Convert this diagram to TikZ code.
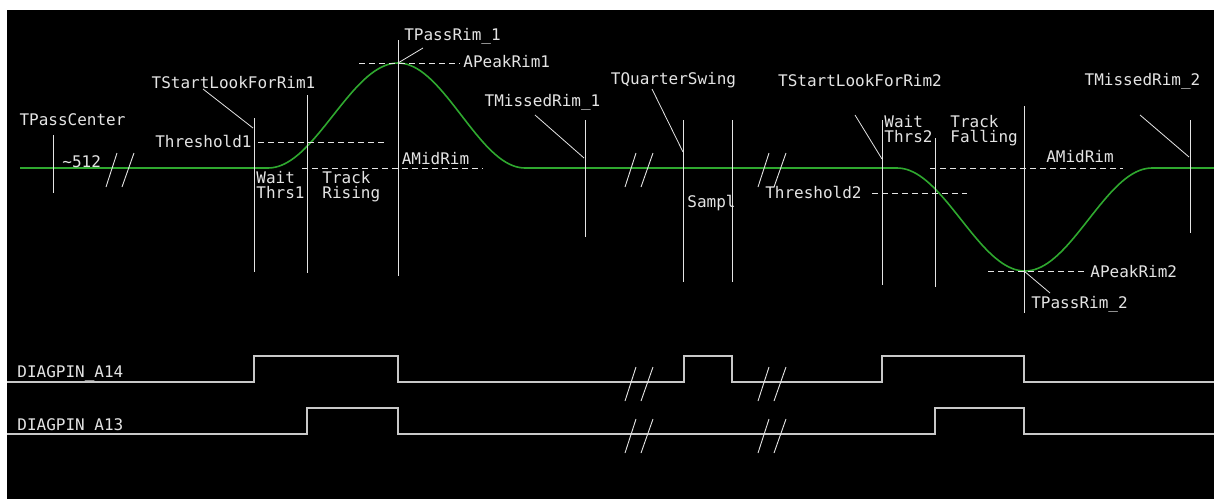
\documentclass[tikz,border=0pt]{standalone}
\usepackage{fontspec}
\newfontfamily\cadfont{DejaVu Sans Mono}
\definecolor{wavegreen}{HTML}{2FA82F}
\definecolor{ink}{HTML}{E4E4E4}
\definecolor{pin}{HTML}{C8C8C8}
\tikzset{
  lbl/.style={inner sep=0pt, text=ink, font=\cadfont\fontsize{8}{7.5}\selectfont},
  twoline/.style={lbl, align=left},
  marker/.style={draw=ink, line width=0.5pt},
  leader/.style={draw=ink, line width=0.4pt},
  level/.style={draw=ink, line width=0.5pt, dash pattern=on 3pt off 2pt},
  wave/.style={draw=wavegreen, line width=0.8pt},
  pinline/.style={draw=pin, line width=0.8pt},
  slashline/.style={draw=ink, line width=0.45pt},
  pics/cut/.style={code={
    \draw[slashline] (0,19) -- (11,-15);
    \draw[slashline] (16,19) -- (28,-15);
  }},
}
\begin{document}
\begin{tikzpicture}[x=0.5pt,y=-0.5pt]
% frame
\useasboundingbox (0,0) rectangle (1214,499);
\fill[white] (0,0) rectangle (1214,499);
\fill[black] (7,10) rectangle (1214,499);

% ---------- analog signal ----------
\draw[wave] (20,168) -- (268,168)
  -- plot[domain=268:398,samples=40] (\x,{168-52.5*(1-cos((\x-268)/130*180))})
  -- plot[domain=398:525,samples=40] (\x,{168-52.5*(1+cos((\x-398)/127*180))})
  -- (897,168)
  -- plot[domain=897:1025,samples=40] (\x,{168+51.5*(1-cos((\x-897)/128*180))})
  -- plot[domain=1025:1152,samples=40] (\x,{168+51.5*(1+cos((\x-1025)/127*180))})
  -- (1214,168);

% time breaks on the analog trace
\pic at (106,168) {cut};
\pic at (625,168) {cut};
\pic at (758,168) {cut};

% ---------- time markers ----------
\coordinate (c0t) at (53,135);   \coordinate (c0b) at (53,193);
\coordinate (m1t) at (254,118);  \coordinate (m1b) at (254,272);
\coordinate (m2t) at (307,95);   \coordinate (m2b) at (307,273);
\coordinate (m3t) at (398,40);   \coordinate (m3b) at (398,276);
\coordinate (m4t) at (585,120);  \coordinate (m4b) at (585,237);
\coordinate (m5t) at (683,120);  \coordinate (m5b) at (683,282);
\coordinate (m6t) at (732,120);  \coordinate (m6b) at (732,282);
\coordinate (m7t) at (882,120);  \coordinate (m7b) at (882,285);
\coordinate (m8t) at (935,138);  \coordinate (m8b) at (935,287);
\coordinate (m9t) at (1024,106); \coordinate (m9b) at (1024,313);
\coordinate (m10t) at (1190,120);\coordinate (m10b) at (1190,233);
\foreach \m in {c0,m1,m2,m3,m4,m5,m6,m7,m8,m9,m10}
  \draw[marker] (\m t) -- (\m b);

% ---------- amplitude levels ----------
\coordinate (th1a) at (258,142); \coordinate (th1b) at (385,142);
\coordinate (mid1a) at (302,168); \coordinate (mid1b) at (483,168);
\coordinate (pk1a) at (359,63);  \coordinate (pk1b) at (460,63);
\coordinate (th2a) at (872,193); \coordinate (th2b) at (967,193);
\coordinate (mid2a) at (930,168); \coordinate (mid2b) at (1123,168);
\coordinate (pk2a) at (988,271); \coordinate (pk2b) at (1087,271);
\foreach \l in {th1,mid1,pk1,th2,mid2,pk2}
  \draw[level] (\l a) -- (\l b);

% ---------- labels ----------
\node[lbl, anchor=base] (passc) at (72.5,125) {TPassCenter};
\node[lbl, anchor=base west] (n512) at (62,167) {\textasciitilde512};
\node[lbl, anchor=base] (look1) at (233.5,88) {TStartLookForRim1};
\node[lbl, anchor=base east] (thr1) at (252,147) {Threshold1};
\node[twoline, anchor=base west] (wait1) at (256,198) {Wait\\Thrs1};
\node[twoline, anchor=base west] (rise) at (322,198) {Track\\Rising};
\node[lbl, anchor=base] (pass1) at (452.5,40) {TPassRim\_1};
\node[lbl, anchor=base west] (apk1) at (463,67) {APeakRim1};
\node[lbl, anchor=base] (amid1) at (435.5,164) {AMidRim};
\node[lbl, anchor=base] (miss1) at (542.5,106) {TMissedRim\_1};
\node[lbl, anchor=base] (quart) at (673.5,84) {TQuarterSwing};
\node[lbl, anchor=base west] (samp) at (687,207) {Sampl};
\node[lbl, anchor=base] (look2) at (860,86) {TStartLookForRim2};
\node[lbl, anchor=base east] (thr2) at (862,198) {Threshold2};
\node[twoline, anchor=base west] (wait2) at (884,142) {Wait\\Thrs2};
\node[twoline, anchor=base west] (fall) at (950,142) {Track\\Falling};
\node[lbl, anchor=base] (amid2) at (1080,162) {AMidRim};
\node[lbl, anchor=base west] (apk2) at (1090,277) {APeakRim2};
\node[lbl, anchor=base] (pass2) at (1079.5,308) {TPassRim\_2};
\node[lbl, anchor=base] (miss2) at (1142.5,85) {TMissedRim\_2};

% ---------- leaders from labels to their markers ----------
\coordinate (look1s) at (203,89);  \coordinate (look1e) at (253,128);
\coordinate (pass1s) at (423,48);  \coordinate (pass1e) at (398,63);
\coordinate (miss1s) at (535,115); \coordinate (miss1e) at (584,158);
\coordinate (quarts) at (652,89);  \coordinate (quarte) at (683,152);
\coordinate (look2s) at (855,115); \coordinate (look2e) at (882,159);
\coordinate (pass2s) at (1050,293);\coordinate (pass2e) at (1024,271);
\coordinate (miss2s) at (1140,115);\coordinate (miss2e) at (1189,157);
\foreach \l in {look1,pass1,miss1,quart,look2,pass2,miss2}
  \draw[leader] (\l s) -- (\l e);

% ---------- digital diagnostic pins ----------
\node[lbl, anchor=base west] (a14) at (17,377) {DIAGPIN\_A14};
\node[lbl, anchor=base west] (a13) at (17,430) {DIAGPIN\_A13};

\draw[pinline] (7,382) -- (254,382) -- (254,356) -- (398,356) -- (398,382)
  -- (684,382) -- (684,356) -- (732,356) -- (732,382)
  -- (882,382) -- (882,356) -- (1024,356) -- (1024,382) -- (1214,382);
\draw[pinline] (7,434) -- (307,434) -- (307,408) -- (398,408) -- (398,434)
  -- (935,434) -- (935,408) -- (1024,408) -- (1024,434) -- (1214,434);

\pic at (625,382) {cut};
\pic at (758,382) {cut};
\pic at (625,434) {cut};
\pic at (758,434) {cut};
\end{tikzpicture}
\end{document}
